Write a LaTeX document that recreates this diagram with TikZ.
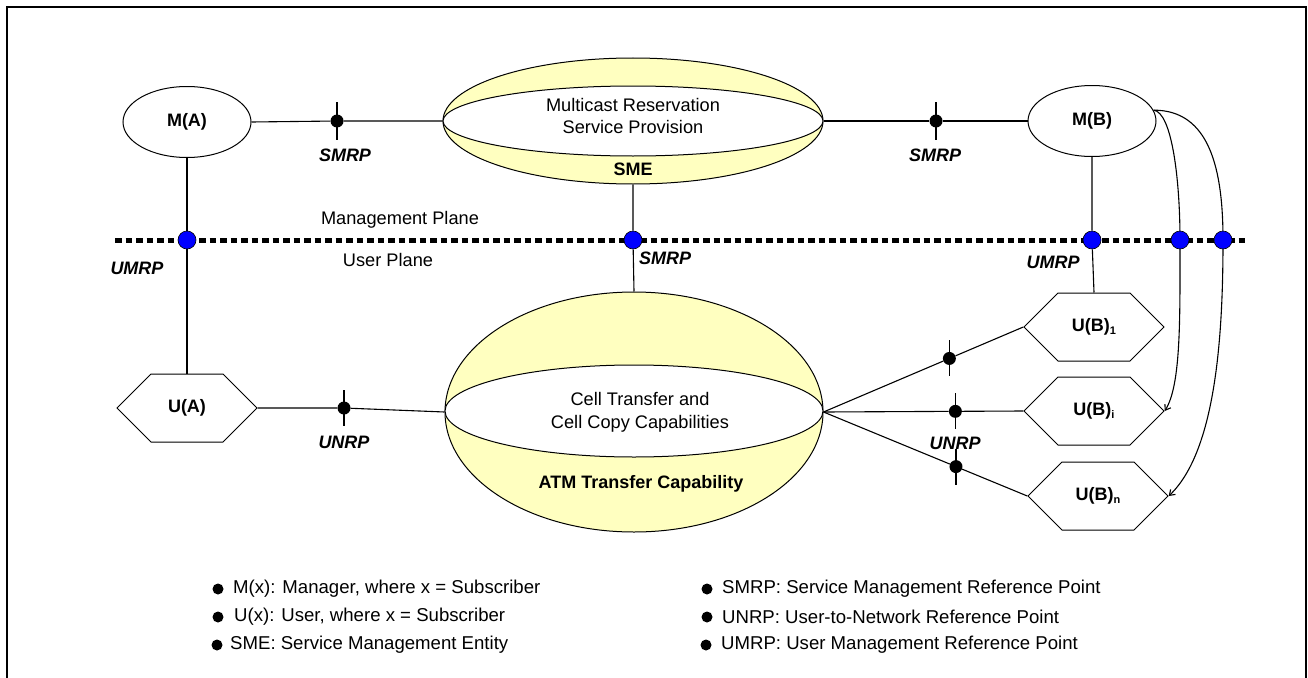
\documentclass[tikz,border=0pt]{standalone}
\usepackage{fontspec}
\setmainfont{Liberation Sans}
\usetikzlibrary{shapes.geometric,shapes.symbols,arrows.meta,backgrounds,calc}
\definecolor{cream}{HTML}{FFFFC0}
\definecolor{dotblue}{HTML}{0000FF}
\newcommand{\sub}[1]{\raisebox{-2.5pt}{\fontsize{11}{11}\selectfont\bfseries #1}}
\begin{document}
\begin{tikzpicture}[x=1pt,y=-1pt,
  txt/.style={font=\fontsize{18.2}{21}\selectfont,inner sep=0pt},
  lbl/.style={font=\fontsize{18}{21}\selectfont\bfseries\itshape,inner sep=0pt},
  mgr/.style={ellipse,draw,line width=1pt,fill=white,minimum width=128pt,minimum height=71pt,inner sep=0pt,font=\fontsize{18}{21}\selectfont\bfseries},
  usr/.style={signal,signal to=east and west,signal pointer angle=90,draw,line width=1pt,fill=white,minimum width=140pt,minimum height=68pt,inner sep=0pt,font=\fontsize{18}{21}\selectfont\bfseries},
  shell/.style={ellipse,draw,line width=1pt,fill=cream,inner sep=0pt},
  core/.style={ellipse,draw,line width=1pt,fill=white,inner sep=0pt},
  rp/.style={circle,fill=black,inner sep=0pt,minimum size=13pt},
  bp/.style={circle,draw=black,line width=0.6pt,fill=dotblue,inner sep=0pt,minimum size=18pt},
  bullet/.style={circle,fill=black,inner sep=0pt,minimum size=11pt},
  conn/.style={line width=1.1pt},
  plane/.style={line width=5pt,dash pattern=on 6.5pt off 4pt}
]
\useasboundingbox (0,0) rectangle (1308,677);
\clip (0,0) rectangle (1308,677);
\draw[line width=2pt] (7,7) rectangle (1306,700);

% managers and users
\node[mgr] (ma) at (187,122) {M(A)};
\node[mgr] (mb) at (1092,121) {M(B)};
\node[usr] (ua) at (187,408) {U(A)};
\node[usr] (ub1) at (1094,327) {U(B)\sub{1}};
\node[usr] (ubi) at (1094,411) {U(B)\sub{i}};
\node[usr] (ubn) at (1098,496) {U(B)\sub{n}};

% service management entity
\node[shell,minimum width=380pt,minimum height=126pt] (sme) at (633,121) {};
\node[core,minimum width=380pt,minimum height=70pt] (smein) at (633,121) {};
\node[txt,align=center] (smetxt) at (633,116) {Multicast Reservation\\[1pt]Service Provision};
\node[txt,font=\fontsize{18}{21}\selectfont\bfseries] (smelbl) at (633,169) {SME};

% ATM transfer capability
\node[shell,minimum width=378pt,minimum height=240pt] (atm) at (634,412) {};
\node[core,minimum width=378pt,minimum height=92pt] (atmin) at (634,411) {};
\node[txt,align=center] (atmtxt) at (640,412) {Cell Transfer and\\[2pt]Cell Copy Capabilities};
\node[txt,font=\fontsize{18}{21}\selectfont\bfseries] (atmlbl) at (641,484) {ATM Transfer Capability};

% plane separator ends
\coordinate (pl) at (115,240);
\coordinate (pr) at (1247,240);

% reference points on the plane separator
\node[bp] (ba) at (187,240) {};
\node[bp] (bs) at (633,240) {};
\node[bp] (bb) at (1092,240) {};
\node[bp] (bc1) at (1180,240) {};
\node[bp] (bc2) at (1223,240) {};

% reference points on the links
\node[rp] (p1) at (337,121) {};
\node[rp] (p2) at (936,121) {};
\node[rp] (p3) at (344,408) {};
\node[rp] (q1) at ($(atm.east)!0.63!(ub1.west)$) {};
\node[rp] (qi) at ($(atm.east)!0.66!(ubi.west)$) {};
\node[rp] (qn) at ($(atm.east)!0.65!(ubn.west)$) {};

\begin{scope}[on background layer]
  \draw[plane] (pl) -- (pr);
  \draw[conn] (ma.east) -- (p1) -- (sme.west);
  \draw[conn] (sme.east) -- (p2) -- (mb.west);
  \draw[conn] (ma.south) -- (ba) -- (ua.north);
  \draw[conn] (sme.south) -- (bs) -- (atm.north);
  \draw[conn] (mb.south) -- (bb) -- (ub1.north);
  \draw[conn] (ua.east) -- (p3) -- (atm.west);
  \draw[conn] (atm.east) -- (q1) -- (ub1.west);
  \draw[conn] (atm.east) -- (qi) -- (ubi.west);
  \draw[conn] (atm.east) -- (qn) -- (ubn.west);
  \foreach \p in {p1,p2} \draw[conn] (\p.center) ++(0,-19) -- ++(0,38);
  \foreach \p in {p3,q1,qi,qn} \draw[conn] (\p.center) ++(0,-18) -- ++(0,36);
  \draw[conn,-{Straight Barb[length=5pt,width=7pt]}] (mb.10) .. controls (1172,112) and (1180,180) .. (bc1.center)
     .. controls (1180,320) and (1181,385) .. (ubi.east);
  \draw[conn,-{Straight Barb[length=5pt,width=7pt]}] (mb.10) .. controls (1210,110) and (1223,170) .. (bc2.center)
     .. controls (1223,330) and (1217,450) .. (ubn.east);
\end{scope}

% labels
\node[lbl] (l1) at (345,155) {SMRP};
\node[lbl] (l2) at (935,155) {SMRP};
\node[lbl] (l3) at (665,258) {SMRP};
\node[lbl] (l4) at (137,268) {UMRP};
\node[lbl] (l5) at (1053,262) {UMRP};
\node[lbl] (l6) at (344,442) {UNRP};
\node[lbl] (l7) at (955,443) {UNRP};
\node[txt] (mp) at (400,220) {Management Plane};
\node[txt] (up) at (388,260) {User Plane};

% legend
\foreach \y/\bx/\tx/\t [count=\k] in {589/218/233/{M(x): Manager, where x = Subscriber},
                          617/218/234/{U(x): User, where x = Subscriber},
                          645/217/230/{SME: Service Management Entity}} {
  \node[bullet] (lb\k) at (\bx,\y) {};
  \node[txt,anchor=west,font=\fontsize{18.6}{21}\selectfont] (lt\k) at (\tx,\y) {\t};
}
\foreach \y/\bx/\tx/\t [count=\k] in {589/707/722/{SMRP: Service Management Reference Point},
                          617/707/722/{UNRP: User-to-Network Reference Point},
                          645/706/721/{UMRP: User Management Reference Point}} {
  \node[bullet] (rb\k) at (\bx,\y) {};
  \node[txt,anchor=west,font=\fontsize{18.6}{21}\selectfont] (rt\k) at (\tx,\y) {\t};
}
\end{tikzpicture}
\end{document}
